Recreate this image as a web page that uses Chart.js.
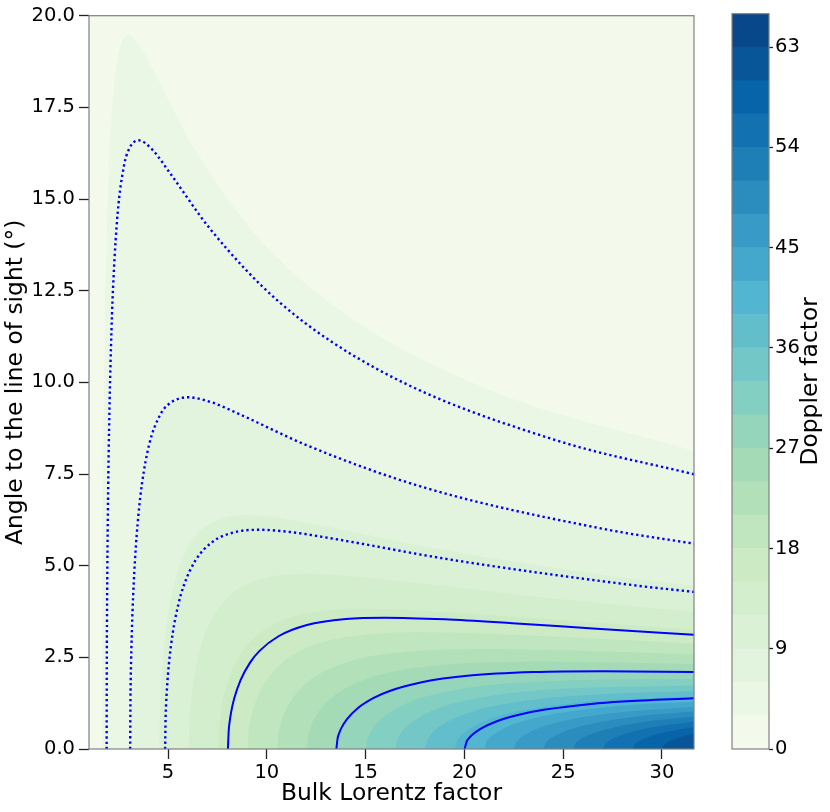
<!DOCTYPE html>
<html><head><meta charset="utf-8">
<script src="https://cdn.jsdelivr.net/npm/chart.js@4.4.1/dist/chart.umd.min.js"></script>
<style>
html,body{margin:0;padding:0;background:#fff;}
#wrap{position:relative;width:830px;height:812px;}
canvas{position:absolute;left:0;top:0;}
</style></head><body>
<div id="wrap"><canvas id="main" width="830" height="812"></canvas><canvas id="cbar" width="830" height="812"></canvas></div>
<script>
// ---------- data ----------
const xTitle = 'Bulk Lorentz factor';
const yTitle = 'Angle to the line of sight (°)';
const cbTitle = 'Doppler factor';
const xLimits = [1, 31.62];
const yLimits = [0, 20];
const xTicks = [5, 10, 15, 20, 25, 30];
const yTicks = [0, 2.5, 5, 7.5, 10, 12.5, 15, 17.5, 20];
const cbTicks = [0, 9, 18, 27, 36, 45, 54, 63];
const bandLevels = [0,3,6,9,12,15,18,21,24,27,30,33,36,39,42,45,48,51,54,57,60,63,66];
const bandColors = ['#f3faec','#ebf7e5','#e2f4dd','#dbf1d5','#d3eecd','#ccebc5','#bfe6bf','#b2e1b9',
  '#a4dbb6','#94d5bc','#83cfc1','#73c8c7','#63becc','#52b5d2','#44a8cd','#389ac6','#2b8cbe',
  '#1e7fb7','#1272b1','#0864a8','#085698','#084789'];

// band boundaries (Lorentz factor, angle in degrees), one per level 3..63
const bound03 = [[1.6667,0],[1.6742,3.019],[1.6817,4.242],[1.6967,5.922],[1.7267,8.168],[1.7867,11.014],[1.8767,13.627],[1.9667,15.312],[2.1467,17.326],[2.4167,18.748],[2.7,19.326],[3,19.471],[3.6,19.164],[4.3667,18.399],[6.1667,16.537],[9.1667,14.205],[13.667,11.977],[21.167,9.819],[31.62,8.129]];
const bound06 = [[3.0833,0],[3.0983,1.382],[3.1133,1.944],[3.1433,2.720],[3.2033,3.768],[3.3233,5.120],[3.5033,6.398],[3.6833,7.247],[4.0433,8.302],[4.5833,9.096],[5,9.390],[6,9.594],[7.2,9.456],[8.4833,9.164],[12.083,8.270],[18.083,7.114],[27.083,5.999],[31.62,5.600]];
const bound09 = [[4.5556,0],[4.5781,0.907],[4.6006,1.276],[4.6456,1.786],[4.7356,2.476],[4.9156,3.369],[5.1856,4.217],[5.4556,4.783],[5.9956,5.491],[6.8056,6.029],[9,6.379],[12.656,6.104],[18.056,5.513],[27.056,4.744],[31.62,4.451]];
const bound12 = [[6.0417,0],[6.0717,0.677],[6.1017,0.952],[6.1617,1.333],[6.2817,1.848],[6.5217,2.515],[6.8817,3.150],[7.2417,3.575],[7.9617,4.107],[9.0417,4.513],[12,4.780],[16.842,4.577],[24.042,4.135],[31.62,3.746]];
const bound15 = [[7.5333,0],[7.5708,0.540],[7.6083,0.760],[7.6833,1.064],[7.8333,1.475],[8.1333,2.008],[8.5833,2.516],[9.0333,2.855],[9.9333,3.281],[11.283,3.607],[15,3.823],[21.033,3.661],[31.62,3.251]];
const bound18 = [[9.0278,0],[9.0728,0.449],[9.1178,0.632],[9.2078,0.885],[9.3878,1.228],[9.7478,1.671],[10.2878,2.094],[10.828,2.377],[11.9078,2.733],[13.528,3.004],[18,3.185],[25.228,3.051],[31.62,2.874]];
const bound21 = [[10.5238,0],[10.5763,0.385],[10.6288,0.541],[10.734,0.758],[10.9438,1.052],[11.364,1.432],[11.9938,1.794],[12.624,2.037],[13.8838,2.341],[15.774,2.575],[21,2.729],[25.224,2.691],[31.62,2.571]];
const bound24 = [[12.0208,0],[12.0808,0.336],[12.1408,0.474],[12.261,0.663],[12.5008,0.920],[12.981,1.252],[13.7008,1.569],[14.421,1.781],[15.8608,2.048],[18.021,2.252],[24,2.388],[31.62,2.318]];
const bound27 = [[13.5185,0],[13.586,0.299],[13.6535,0.421],[13.789,0.589],[14.0585,0.817],[14.599,1.113],[15.4085,1.394],[16.219,1.583],[17.8385,1.820],[20.269,2.002],[23.5,2.099],[27,2.123],[31.62,2.100]];
const bound30 = [[15.0167,0],[15.0917,0.269],[15.1667,0.379],[15.317,0.530],[15.6167,0.735],[16.217,1.001],[17.1167,1.255],[18.017,1.424],[19.8167,1.638],[22.517,1.801],[30,1.910],[31.62,1.908]];
const bound33 = [[16.5152,0],[16.5977,0.245],[16.6802,0.344],[16.845,0.482],[17.1752,0.668],[17.835,0.910],[18.8252,1.140],[19.815,1.295],[21.7952,1.489],[24.765,1.637],[31.62,1.735]];
const bound36 = [[18.0139,0],[18.1039,0.224],[18.1939,0.315],[18.374,0.442],[18.7339,0.613],[19.454,0.834],[20.5339,1.045],[21.614,1.187],[23.7739,1.365],[27.014,1.501],[31.62,1.576]];
const bound39 = [[19.5128,0],[19.6103,0.207],[19.7078,0.291],[19.903,0.408],[20.2928,0.565],[21.073,0.770],[22.2428,0.965],[23.413,1.095],[25.7528,1.260],[27.313,1.328],[31.62,1.429]];
const bound42 = [[21.0119,0],[21.1169,0.192],[21.2219,0.270],[21.432,0.378],[21.8519,0.525],[22.692,0.715],[23.9519,0.896],[25.212,1.017],[28.572,1.204],[31.62,1.289]];
const bound45 = [[22.5111,0],[22.6236,0.179],[22.7361,0.252],[22.961,0.353],[23.4111,0.490],[24.311,0.667],[25.2111,0.788],[27.011,0.949],[31.62,1.154]];
const bound48 = [[24.0104,0],[24.1304,0.168],[24.2504,0.236],[24.490,0.331],[24.9704,0.459],[25.930,0.625],[26.8904,0.739],[28.810,0.890],[31.62,1.021]];
const bound51 = [[25.5098,0],[25.6373,0.158],[25.7648,0.223],[26.020,0.312],[26.5298,0.432],[27.550,0.589],[29.590,0.775],[31.62,0.887]];
const bound54 = [[27.0093,0],[27.1443,0.149],[27.2793,0.210],[27.549,0.294],[27.8193,0.357],[28.359,0.452],[29.169,0.556],[31.62,0.749]];
const bound57 = [[28.5088,0],[28.6513,0.141],[28.7938,0.199],[29.079,0.279],[29.6488,0.387],[30.219,0.465],[31.62,0.599]];
const bound60 = [[30.0083,0],[30.0683,0.085],[30.1583,0.134],[30.308,0.189],[30.608,0.265],[31.2083,0.367],[31.62,0.420]];
const bound63 = [[31.5079,0],[31.5159,0.029],[31.538,0.056],[31.62,0.108]];

// contour lines: Doppler factor 3.5, 6, 9.6 (dotted) and 16, 27, 40 (solid)
const line035 = [[1.8929,0],[1.9016,2.506],[1.9104,3.522],[1.9279,4.922],[1.9629,6.800],[2.0329,9.195],[2.1379,11.421],[2.2429,12.871],[2.4529,14.629],[2.7679,15.901],[3,16.333],[3.5,16.602],[4.2,16.35],[5.0429,15.749],[7.1429,14.176],[10.643,12.183],[15.893,10.272],[24.643,8.420],[31.62,7.493]];
const line060 = bound06;
const line096 = [[4.8521,0],[4.8761,0.849],[4.9001,1.194],[4.9481,1.672],[5.0441,2.318],[5.2361,3.155],[5.5241,3.949],[5.8121,4.480],[6.3881,5.144],[7.2521,5.650],[8.3,5.904],[9.6,5.979],[11.2,5.917],[13.492,5.723],[19.252,5.169],[28.852,4.448],[31.62,4.285]];
const line160 = [[8.0313,0],[8.0713,0.506],[8.1113,0.712],[8.1913,0.997],[8.3513,1.382],[8.6713,1.881],[9.1513,2.357],[9.6313,2.676],[10.5913,3.075],[12.031,3.381],[14,3.546],[16,3.583],[19,3.538],[22.431,3.432],[26.5,3.289],[31.62,3.115]];
const line270 = bound27;
const line400 = [[20.0125,0],[20.1125,0.202],[20.2125,0.284],[20.4125,0.397],[20.8125,0.551],[21.6125,0.751],[22.8125,0.941],[24.0125,1.068],[26.4125,1.228],[28.0125,1.294],[31.62,1.381]];

const bounds = [bound03,bound06,bound09,bound12,bound15,bound18,bound21,bound24,bound27,bound30,bound33,
  bound36,bound39,bound42,bound45,bound48,bound51,bound54,bound57,bound60,bound63];
const dottedLines = [line035, line060, line096];
const solidLines = [line160, line270, line400];

// ---------- rendering ----------
const FONT = 'DejaVu Sans';
Chart.defaults.font.family = FONT;
Chart.defaults.color = '#000';
const toXY = arr => arr.map(([x, y]) => ({x, y}));

const framePlugin = {
  id: 'frame',
  afterDatasetsDraw(chart, args, opts) {
    const {ctx, chartArea: a} = chart;
    ctx.save();
    ctx.strokeStyle = opts.color || '#808080';
    ctx.lineWidth = opts.width || 1.2;
    ctx.strokeRect(a.left, a.top, a.right - a.left, a.bottom - a.top);
    ctx.restore();
  }
};

const datasets = [];
datasets.push({
  data: [{x: xLimits[0], y: yLimits[1]}, {x: xLimits[1], y: yLimits[1]}],
  fill: 'origin', backgroundColor: bandColors[0], borderWidth: 0, pointRadius: 0, order: 1000
});
bounds.forEach((b, i) => {
  datasets.push({
    data: toXY(b), fill: 'origin', backgroundColor: bandColors[i + 1],
    borderWidth: 0, pointRadius: 0, cubicInterpolationMode: 'monotone', order: 999 - i
  });
});
dottedLines.forEach(l => datasets.push({
  data: toXY(l), fill: false, borderColor: '#0000ff', borderWidth: 2.4, borderDash: [2.3, 3.0],
  borderCapStyle: 'butt', pointRadius: 0, cubicInterpolationMode: 'monotone', order: 1
}));
solidLines.forEach(l => datasets.push({
  data: toXY(l), fill: false, borderColor: '#0000ff', borderWidth: 2,
  pointRadius: 0, cubicInterpolationMode: 'monotone', order: 0
}));

new Chart(document.getElementById('main'), {
  type: 'line',
  data: {datasets},
  options: {
    responsive: false, animation: false, events: [],
    layout: {padding: {left: 0, top: 12, right: 136, bottom: 0}},
    scales: {
      x: {
        type: 'linear', min: xLimits[0], max: xLimits[1],
        afterBuildTicks: s => { s.ticks = xTicks.map(v => ({value: v})); },
        afterFit: s => { s.height = 63; },
        ticks: {font: {size: 19.5}, color: '#000', padding: 2, maxRotation: 0, autoSkip: false, callback: v => String(v)},
        grid: {drawOnChartArea: false, drawTicks: true, tickLength: 10, tickColor: '#222', tickWidth: 1.3},
        border: {display: false},
        title: {display: true, text: xTitle, font: {size: 23.4}, color: '#000', padding: {top: 0, bottom: 4.5}}
      },
      y: {
        type: 'linear', min: yLimits[0], max: yLimits[1],
        afterBuildTicks: s => { s.ticks = yTicks.map(v => ({value: v})); },
        afterFit: s => { s.width = 89; },
        ticks: {font: {size: 19.5}, color: '#000', padding: 4, autoSkip: false, callback: v => Number(v).toFixed(1)},
        grid: {drawOnChartArea: false, drawTicks: true, tickLength: 10, tickColor: '#222', tickWidth: 1.3},
        border: {display: false},
        title: {display: true, text: yTitle, font: {size: 23.4}, color: '#000', padding: {top: 1.5, bottom: 0}}
      }
    },
    plugins: {legend: {display: false}, tooltip: {enabled: false}, frame: {color: '#808080', width: 1.2}}
  },
  plugins: [framePlugin]
});

const cbTitlePlugin = {
  id: 'cbTitle',
  afterDraw(chart, args, opts) {
    const {ctx, chartArea: a} = chart;
    ctx.save();
    ctx.translate(a.right + opts.offset, (a.top + a.bottom) / 2);
    ctx.rotate(-Math.PI / 2);
    ctx.font = opts.size + 'px "' + FONT + '"';
    ctx.fillStyle = '#000';
    ctx.textAlign = 'center';
    ctx.textBaseline = 'middle';
    ctx.fillText(opts.text, 0, 0);
    ctx.restore();
  }
};

new Chart(document.getElementById('cbar'), {
  type: 'bar',
  data: {
    labels: [''],
    datasets: bandColors.map((c, i) => ({
      data: [[bandLevels[i], bandLevels[i + 1]]], backgroundColor: c, borderWidth: 0,
      grouped: false, barPercentage: 1, categoryPercentage: 1
    }))
  },
  options: {
    responsive: false, animation: false, events: [],
    layout: {padding: {left: 732, top: 12, right: 0, bottom: 63}},
    scales: {
      x: {display: false},
      y: {
        position: 'right', min: bandLevels[0], max: bandLevels[bandLevels.length - 1],
        afterBuildTicks: s => { s.ticks = cbTicks.map(v => ({value: v})); },
        afterFit: s => { s.width = 61; },
        ticks: {font: {size: 19.5}, color: '#000', padding: 2, autoSkip: false},
        grid: {drawOnChartArea: false, drawTicks: true, tickLength: 4, tickColor: '#222', tickWidth: 1.3},
        border: {display: false}
      }
    },
    plugins: {legend: {display: false}, tooltip: {enabled: false},
      frame: {color: '#808080', width: 1.2},
      cbTitle: {text: cbTitle, size: 23.4, offset: 41.5}}
  },
  plugins: [framePlugin, cbTitlePlugin]
});
</script></body></html>
